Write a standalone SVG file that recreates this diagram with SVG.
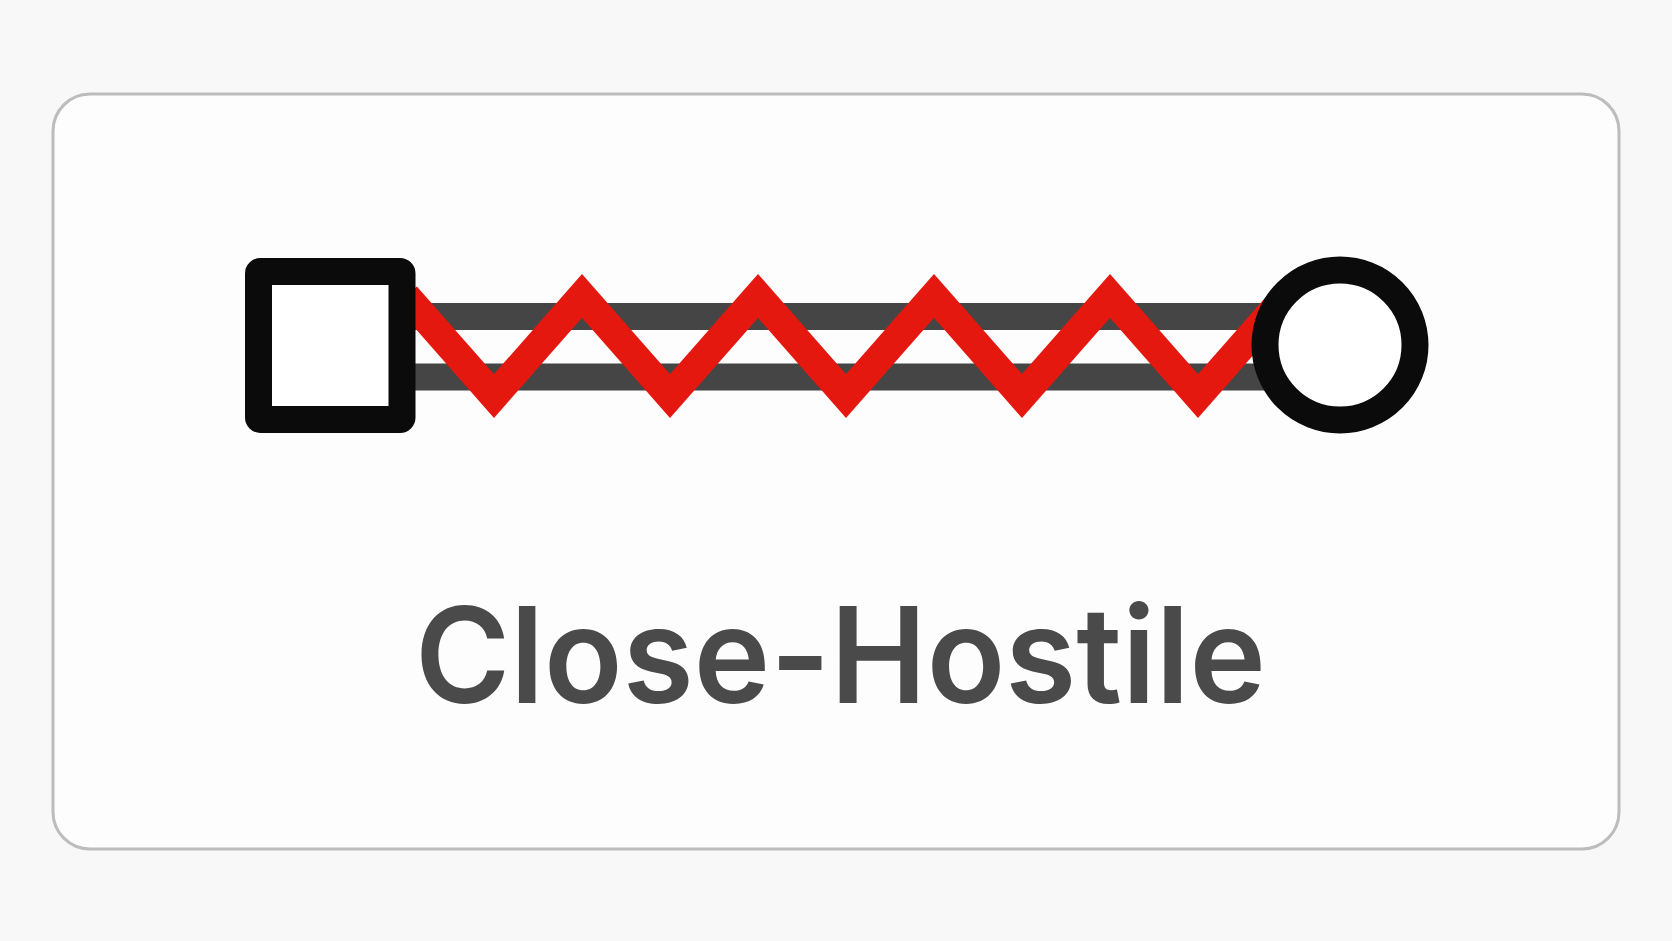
<svg xmlns="http://www.w3.org/2000/svg" width="1672" height="941" viewBox="0 0 1672 941">
  <style>
    .frame { fill: #fdfdfd; stroke: #bcbcbc; stroke-width: 3; }
    .bar { stroke: #454545; stroke-width: 27; fill: none; }
    .zig { stroke: #e5180f; stroke-width: 29; fill: none; stroke-linejoin: miter; stroke-miterlimit: 10; }
    .node { stroke: #0b0b0b; stroke-width: 27; fill: #ffffff; }
    .label { font-family: "Inter", "Liberation Sans", sans-serif; font-weight: 600; font-size: 133px; fill: #4a4a4a; }
  </style>
  <rect x="0" y="0" width="1672" height="941" fill="#f8f8f8"/>
  <rect class="frame" x="53" y="94" width="1566" height="755" rx="37" ry="37"/>
  <g id="connectors">
    <line class="bar" x1="402" y1="316.5" x2="1300" y2="316.5"/>
    <line class="bar" x1="402" y1="377" x2="1300" y2="377"/>
    <polyline class="zig" points="406,296 494,396 582,296 670,396 758,296 846,396 934,296 1022,396 1110,296 1198,396 1286,296"/>
  </g>
  <g id="node-square">
    <rect class="node" x="258.5" y="271.5" width="143.5" height="148" rx="2" ry="2"/>
  </g>
  <g id="node-circle">
    <circle class="node" cx="1340" cy="345" r="75"/>
  </g>
  <g id="label">
    <text class="label" x="415" y="703" textLength="851" lengthAdjust="spacingAndGlyphs">Close-Hostile</text>
  </g>
</svg>
